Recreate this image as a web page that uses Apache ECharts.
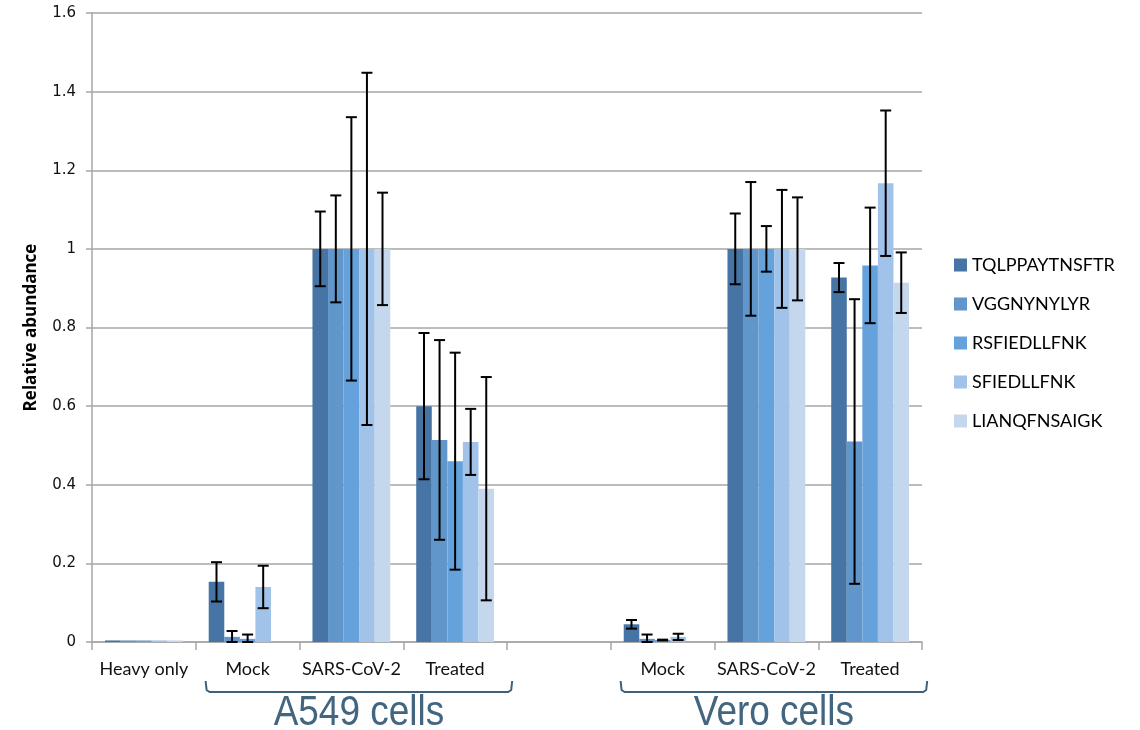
<!DOCTYPE html>
<html><head><meta charset="utf-8">
<script src="https://cdn.jsdelivr.net/npm/echarts@6/dist/echarts.min.js"></script>
<style>html,body{margin:0;padding:0;background:#fff}#c{width:1140px;height:730px}</style>
</head><body><div id="c"></div>
<script>
const categories = ['Heavy only','Mock','SARS-CoV-2','Treated','','Mock ','SARS-CoV-2 ','Treated '];
const seriesNames = ['TQLPPAYTNSFTR','VGGNYNYLYR','RSFIEDLLFNK','SFIEDLLFNK','LIANQFNSAIGK'];
const colors = ['#4674A4','#6096CA','#65A2DC','#A1C3E9','#C5D7EC'];
const yTicks = [0,0.2,0.4,0.6,0.8,1,1.2,1.4,1.6];

const TQLPPAYTNSFTR = [0.004,0.153,1,0.600,null,0.045,1,0.927];
const VGGNYNYLYR    = [0.004,0.013,1,0.514,null,0.008,1,0.510];
const RSFIEDLLFNK   = [0.004,0.008,1,0.460,null,0.005,1,0.958];
const SFIEDLLFNK    = [0.004,0.140,1,0.509,null,0.013,1,1.167];
const LIANQFNSAIGK  = [0.004,0,1,0.390,null,0,1,0.914];

const errTQLPPAYTNSFTR = [null,0.050,0.095,0.186,null,0.011,0.090,0.037];
const errVGGNYNYLYR    = [null,0.015,0.136,0.254,null,0.011,0.170,0.362];
const errRSFIEDLLFNK   = [null,0.011,0.335,0.276,null,0.001,0.058,0.147];
const errSFIEDLLFNK    = [null,0.054,0.448,0.084,null,0.008,0.150,0.185];
const errLIANQFNSAIGK  = [null,null,0.143,0.284,null,null,0.131,0.077];

const groupLabels = ['A549 cells','Vero cells'];

const values = [TQLPPAYTNSFTR,VGGNYNYLYR,RSFIEDLLFNK,SFIEDLLFNK,LIANQFNSAIGK];
const errors = [errTQLPPAYTNSFTR,errVGGNYNYLYR,errRSFIEDLLFNK,errSFIEDLLFNK,errLIANQFNSAIGK];

const chart = echarts.init(document.getElementById('c'));
const GAP = 0.25;
const series = [];
seriesNames.forEach((n,i)=>{
  series.push({name:n,type:'bar',data:values[i],barGap:'0%',barCategoryGap:(GAP*100)+'%',
    itemStyle:{color:colors[i]},emphasis:{disabled:true},silent:true});
});
seriesNames.forEach((n,i)=>{
  const d=[];
  values[i].forEach((v,k)=>{ if(errors[i][k]!=null && v!=null) d.push([k,v,errors[i][k]]); });
  series.push({type:'custom',z:10,silent:true,data:d,
    renderItem:(params,api)=>{
      const k=api.value(0),v=api.value(1),e=api.value(2);
      const cw=api.size([1,0])[0];
      const bw=cw*(1-GAP)/5;
      const c=api.coord([k,v]);
      const x=c[0]+(i-2)*bw;
      const yt=api.coord([k,v+e])[1], yb=api.coord([k,Math.max(0,v-e)])[1];
      const hw=5.5;
      const st={stroke:'#000',lineWidth:2};
      return {type:'group',children:[
        {type:'line',shape:{x1:x,y1:yt,x2:x,y2:yb},style:st},
        {type:'line',shape:{x1:x-hw,y1:yt,x2:x+hw,y2:yt},style:st},
        {type:'line',shape:{x1:x-hw,y1:yb,x2:x+hw,y2:yb},style:st}
      ]};
    }});
});

chart.setOption({
  animation:false,
  grid:{left:92,right:218,top:13,bottom:88},
  legend:{orient:'vertical',left:949,top:251,itemGap:21,itemWidth:13,itemHeight:13,
    icon:'rect',data:seriesNames,
    textStyle:{fontFamily:'Lato, Open Sans, sans-serif',fontSize:18,color:'#000'}},
  xAxis:{type:'category',data:categories,
    axisLine:{lineStyle:{color:'#a6a6a6',width:1.5}},
    axisTick:{show:true,length:8,interval:0,lineStyle:{color:'#a6a6a6',width:1.5}},
    axisLabel:{interval:0,margin:18,fontFamily:'Lato, Open Sans, sans-serif',fontSize:18,color:'#111',
      formatter:v=>v.trim()}},
  yAxis:{type:'value',min:0,max:1.6,interval:0.2,
    name:'Relative abundance',nameLocation:'middle',nameGap:52,
    nameTextStyle:{fontFamily:'Open Sans, sans-serif',fontWeight:'bold',fontSize:17,color:'#000'},
    axisLine:{show:true,lineStyle:{color:'#a6a6a6',width:1.5}},
    axisTick:{show:true,length:6,lineStyle:{color:'#a6a6a6',width:1.5}},
    splitLine:{lineStyle:{color:'#a6a6a6',width:1.5}},
    axisLabel:{margin:16,fontFamily:'DejaVu Sans, sans-serif',fontSize:15,color:'#111',
      formatter:v=>{const s=yTicks.find(t=>Math.abs(t-v)<1e-9);return String(s!=null?s:v);}}},
  series:series
});

// brackets under group labels
function px(idx){return chart.convertToPixel({xAxisIndex:0},idx);}
const cw = px(1)-px(0);
const groups=[[1,3],[5,7]];
const g=[];
groups.forEach((r,j)=>{
  const x1=px(r[0])-cw*0.405, x2=px(r[1])+cw*0.55;
  const yTop=681,yBot=692;
  g.push({type:'polyline',shape:{points:[[x1,yTop],[x1+1,yBot-2],[x1+4,yBot],[x2-4,yBot],[x2-1,yBot-2],[x2,yTop]]},
    style:{stroke:'#3F6079',lineWidth:2,fill:null}});
  g.push({type:'text',x:(x1+x2)/2,y:713,scaleX:0.88,
    style:{text:groupLabels[j],x:0,y:0,align:'center',verticalAlign:'middle',
    fontFamily:'Liberation Sans, sans-serif',fontSize:42,fill:'#42667F'}});
});
chart.setOption({graphic:g});
</script></body></html>
